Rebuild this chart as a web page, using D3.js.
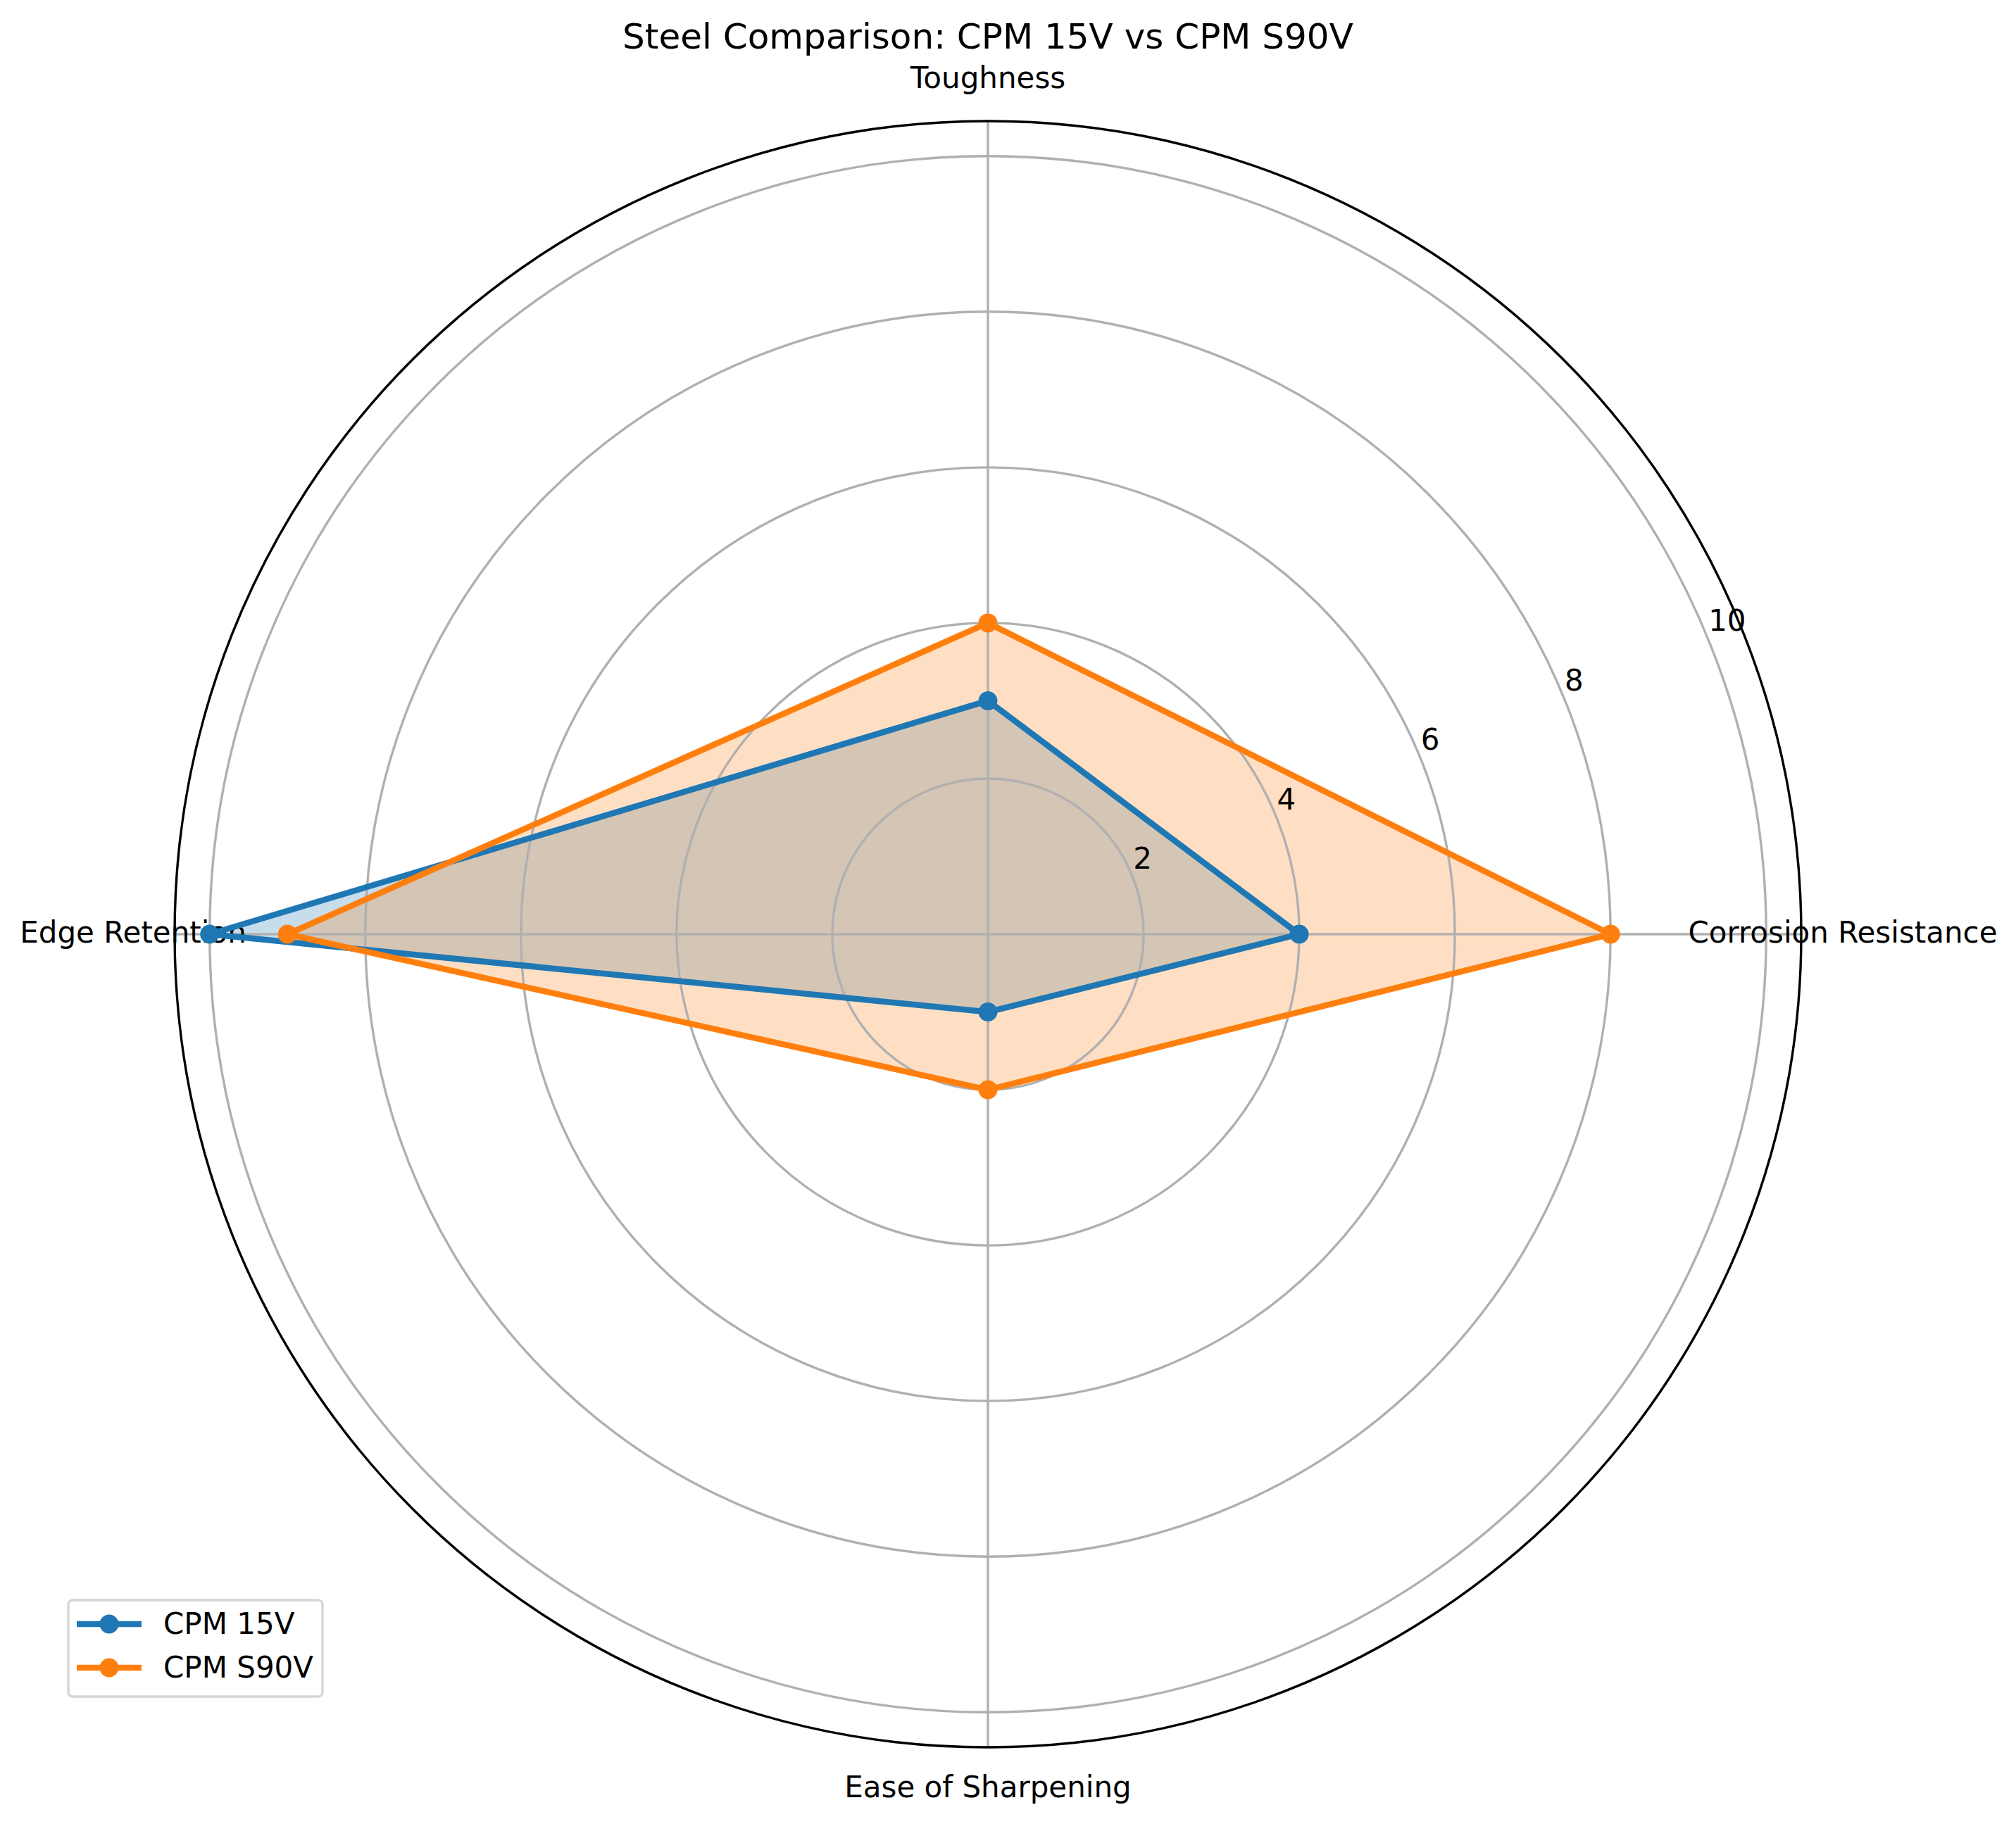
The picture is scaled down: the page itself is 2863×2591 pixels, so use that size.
<!DOCTYPE html>
<html>
<head>
<meta charset="utf-8">
<script src="https://cdn.jsdelivr.net/npm/d3@7"></script>
<style>
  body { margin: 0; background: #fff; }
  text { font-family: "DejaVu Sans", sans-serif; }
</style>
</head>
<body>
<div id="chart"></div>
<script>
// Data
const categories = ["Corrosion Resistance", "Toughness", "Edge Retention", "Ease of Sharpening"];
const seriesNames = ["CPM 15V", "CPM S90V"];
const cpm15v = [4, 3, 10, 1];
const cpmS90v = [8, 4, 9, 2];
const rTicks = [2, 4, 6, 8, 10];
const colors = ["#1f77b4", "#ff7f0e"];

const W = 2863, H = 2591;
const cx = 1403, cy = 1327;
const outerR = 1155;
const fontSize = 42;

const svg = d3.select("#chart")
    .append("svg")
    .attr("width", W)
    .attr("height", H)
    .attr("viewBox", `0 0 ${W} ${H}`);

svg.append("rect").attr("width", W).attr("height", H).attr("fill", "#fff");

// radial scale, axis runs 0..10.45 like matplotlib's autoscale
const r = d3.scaleLinear().domain([0, 10.45]).range([0, outerR]);
// d3 angles are clockwise from 12 o'clock; first category points east, going counter-clockwise
const angle = d3.scaleLinear().domain([0, categories.length]).range([Math.PI / 2, Math.PI / 2 - 2 * Math.PI]);

const g = svg.append("g").attr("transform", `translate(${cx},${cy})`);

const series = [cpm15v, cpmS90v];

const radial = d3.lineRadial()
    .angle((d, i) => angle(i))
    .radius(d => r(d))
    .curve(d3.curveLinearClosed);

// fills first (patches sit under the lines)
series.forEach((vals, k) => {
    g.append("path")
        .attr("d", radial(vals))
        .attr("fill", colors[k])
        .attr("fill-opacity", 0.25)
        .attr("stroke", "none");
});

// grid rings
g.selectAll(".ring")
    .data(rTicks)
    .enter()
    .append("circle")
    .attr("class", "ring")
    .attr("r", d => r(d))
    .attr("fill", "none")
    .attr("stroke", "#b0b0b0")
    .attr("stroke-width", 3.4);

// spokes
g.selectAll(".spoke")
    .data(categories)
    .enter()
    .append("line")
    .attr("class", "spoke")
    .attr("x1", 0).attr("y1", 0)
    .attr("x2", (d, i) => outerR * Math.sin(angle(i)))
    .attr("y2", (d, i) => -outerR * Math.cos(angle(i)))
    .attr("stroke", "#b0b0b0")
    .attr("stroke-width", 3.4);

// outer frame
g.append("circle")
    .attr("r", outerR)
    .attr("fill", "none")
    .attr("stroke", "#000")
    .attr("stroke-width", 3.4);

// radial tick labels at 22.5 degrees
const labelAng = 22.5 * Math.PI / 180;
g.selectAll(".rtick")
    .data(rTicks)
    .enter()
    .append("text")
    .attr("class", "rtick")
    .attr("x", d => r(d) * Math.cos(labelAng) + 2)
    .attr("y", d => -r(d) * Math.sin(labelAng) - 8)
    .attr("font-size", fontSize)
    .attr("fill", "#000")
    .text(d => d);

// category labels
const labelR = 1214;
g.selectAll(".cat")
    .data(categories)
    .enter()
    .append("text")
    .attr("class", "cat")
    .attr("x", (d, i) => labelR * Math.sin(angle(i)))
    .attr("y", (d, i) => -labelR * Math.cos(angle(i)) + 12)
    .attr("text-anchor", "middle")
    .attr("font-size", fontSize)
    .attr("fill", "#000")
    .text(d => d);

// lines and markers
series.forEach((vals, k) => {
    g.append("path")
        .attr("d", radial(vals))
        .attr("fill", "none")
        .attr("stroke", colors[k])
        .attr("stroke-width", 8.5)
        .attr("stroke-linejoin", "round");
    g.selectAll(".pt" + k)
        .data(vals)
        .enter()
        .append("circle")
        .attr("class", "pt" + k)
        .attr("cx", (d, i) => r(d) * Math.sin(angle(i)))
        .attr("cy", (d, i) => -r(d) * Math.cos(angle(i)))
        .attr("r", 13.5)
        .attr("fill", colors[k]);
});

// title
svg.append("text")
    .attr("x", cx)
    .attr("y", 69)
    .attr("text-anchor", "middle")
    .attr("font-size", 50)
    .attr("fill", "#000")
    .text("Steel Comparison: CPM 15V vs CPM S90V");

// legend
const legend = svg.append("g");
legend.append("rect")
    .attr("x", 97).attr("y", 2273)
    .attr("width", 361).attr("height", 137)
    .attr("rx", 6)
    .attr("fill", "#fff")
    .attr("fill-opacity", 0.8)
    .attr("stroke", "#d6d6d6")
    .attr("stroke-width", 3.4);

const rowY = d3.scalePoint().domain(seriesNames).range([2307, 2369]);
seriesNames.forEach((name, k) => {
    const y = rowY(name);
    legend.append("line")
        .attr("x1", 109).attr("x2", 201)
        .attr("y1", y).attr("y2", y)
        .attr("stroke", colors[k])
        .attr("stroke-width", 8.5);
    legend.append("circle")
        .attr("cx", 155).attr("cy", y)
        .attr("r", 13.5)
        .attr("fill", colors[k]);
    legend.append("text")
        .attr("x", 232).attr("y", y + 14)
        .attr("font-size", fontSize)
        .attr("fill", "#000")
        .text(name);
});
</script>
</body>
</html>
